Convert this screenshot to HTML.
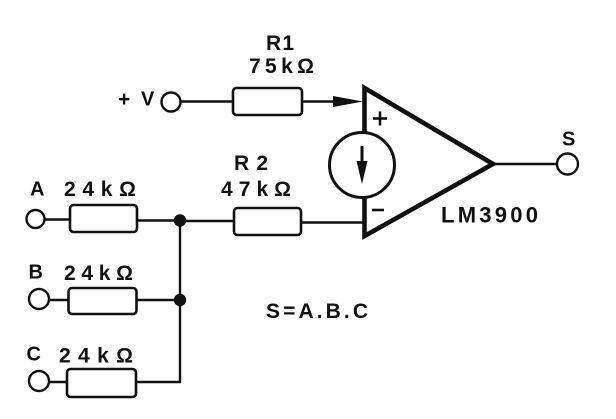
<!DOCTYPE html>
<html><head><meta charset="utf-8"><style>
html,body{margin:0;padding:0;background:#fff;}
svg{display:block;}
text{font-family:"Liberation Sans",Arial,sans-serif;font-weight:bold;fill:#111;}
</style></head><body>
<svg width="616" height="419" viewBox="0 0 616 419" xmlns="http://www.w3.org/2000/svg">
<rect x="0" y="0" width="616" height="419" fill="#fff"/>
<g stroke="#111" fill="none" stroke-width="2.4">
  <!-- +V input -->
  <circle cx="171" cy="102" r="9.5"/>
  <line x1="180.5" y1="101.5" x2="233" y2="101.5"/>
  <line x1="302" y1="101.5" x2="336" y2="101.5"/>
  <!-- A -->
  <circle cx="35.5" cy="219" r="9"/>
  <line x1="44.5" y1="219.5" x2="70" y2="219.5"/>
  <line x1="137" y1="220.5" x2="180" y2="220.5"/>
  <line x1="180" y1="221" x2="234" y2="221"/>
  <line x1="301" y1="222.5" x2="364" y2="222.5"/>
  <!-- bus -->
  <line x1="180" y1="220" x2="180" y2="383"/>
  <!-- B -->
  <circle cx="39" cy="299" r="10"/>
  <line x1="49" y1="300" x2="68.5" y2="300"/>
  <line x1="136.5" y1="300" x2="180" y2="300"/>
  <!-- C -->
  <circle cx="39" cy="381" r="10"/>
  <line x1="49" y1="382" x2="67" y2="382"/>
  <line x1="136" y1="382" x2="181" y2="382"/>
  <!-- output -->
  <line x1="492" y1="164" x2="557" y2="164"/>
  <circle cx="567.5" cy="164" r="10.5"/>
</g>
<!-- resistors -->
<g stroke="#111" fill="#fff" stroke-width="2.6">
  <rect x="233" y="88" width="69" height="27" rx="3.5"/>
  <rect x="70" y="205" width="67" height="27" rx="3.5"/>
  <rect x="68.5" y="288" width="68" height="26" rx="3.5"/>
  <rect x="67" y="369" width="69" height="28" rx="3.5"/>
  <rect x="234" y="208" width="67" height="27" rx="3.5"/>
</g>
<!-- arrow into + -->
<polygon points="333,96 363,101.5 333,107" fill="#111"/>
<!-- junction dots -->
<circle cx="180" cy="220.5" r="6.2" fill="#111"/>
<circle cx="180" cy="300" r="6.2" fill="#111"/>
<!-- op amp -->
<polygon points="364.5,88 364.5,236 493,164" fill="none" stroke="#111" stroke-width="4.6" stroke-linejoin="miter"/>
<!-- current source -->
<circle cx="362" cy="165" r="32.5" fill="#fff" stroke="#111" stroke-width="3"/>
<line x1="362" y1="146" x2="362" y2="166" stroke="#111" stroke-width="3"/>
<polygon points="356.5,161 367.5,161 362,184" fill="#111"/>
<!-- + and - signs -->
<line x1="373" y1="118.5" x2="387" y2="118.5" stroke="#111" stroke-width="2.6"/>
<line x1="380" y1="111.5" x2="380" y2="125.5" stroke="#111" stroke-width="2.6"/>
<line x1="372" y1="210" x2="384" y2="210" stroke="#111" stroke-width="2.6"/>
<!-- labels -->
<text x="266" y="50" font-size="21" textLength="28" lengthAdjust="spacing">R1</text>
<text x="249" y="73" font-size="21" textLength="65" lengthAdjust="spacing">75kΩ</text>
<text x="118" y="106" font-size="21">+</text>
<text x="141" y="105.5" font-size="20">V</text>
<text x="234" y="170" font-size="21" textLength="34" lengthAdjust="spacing">R2</text>
<text x="221" y="196" font-size="21" textLength="70" lengthAdjust="spacing">47kΩ</text>
<text x="30" y="195.5" font-size="20">A</text>
<text x="64" y="196" font-size="21" textLength="72" lengthAdjust="spacing">24kΩ</text>
<text x="28.5" y="278.5" font-size="20">B</text>
<text x="64" y="280" font-size="21" textLength="69" lengthAdjust="spacing">24kΩ</text>
<text x="26.5" y="360.5" font-size="20">C</text>
<text x="59" y="362.5" font-size="21" textLength="74" lengthAdjust="spacing">24kΩ</text>
<text x="562" y="145.5" font-size="20">S</text>
<text x="441" y="222.5" font-size="22" textLength="97" lengthAdjust="spacing">LM3900</text>
<text x="266" y="318" font-size="21" textLength="102" lengthAdjust="spacing">S=A.B.C</text>
</svg>
</body></html>
